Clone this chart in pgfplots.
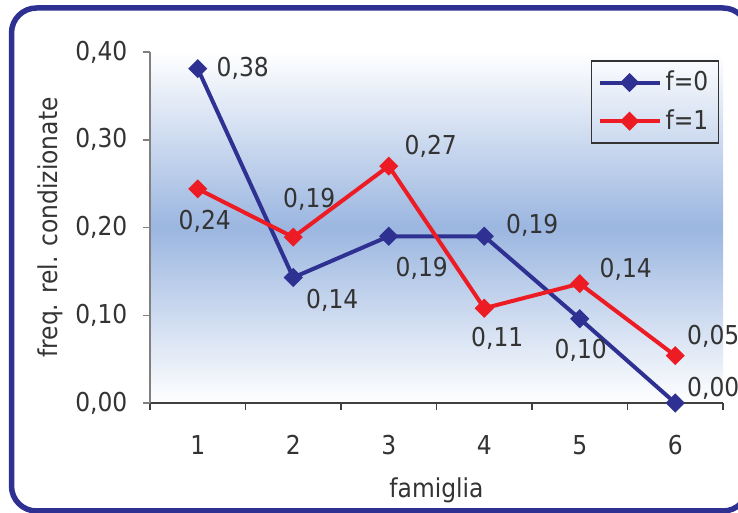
\documentclass[border=0pt]{standalone}
\usepackage{pgfplots}
\pgfplotsset{compat=1.18}
\usepackage{pgfplotstable}
\usepackage{fontspec}
\setmainfont{DejaVu Sans Condensed}

\definecolor{serieblu}{RGB}{46,49,146}
\definecolor{serierossa}{RGB}{237,28,36}
\definecolor{cornice}{RGB}{46,49,146}
\definecolor{testo}{RGB}{51,51,51}
\definecolor{fondo}{RGB}{155,182,224}
\definecolor{assescuro}{RGB}{64,64,64}
\definecolor{assegrigio}{RGB}{128,128,128}

% famiglia, frequenza relativa condizionata, spostamento dell'etichetta (pt)
\pgfplotstableread{
x y     dx   dy
1 0.381 22.5 0
2 0.143 19.5 -11.5
3 0.190 16.5 -16
4 0.190 24   5.5
5 0.096 0.5  -16
6 0.000 19   7.5
}\fzero
\pgfplotstableread{
x y     dx   dy
1 0.244 3.5  -16
2 0.189 8    19
3 0.270 21   10
4 0.108 6.5  -15
5 0.136 23   7
6 0.054 19   9.5
}\funo

\begin{document}
\fontsize{13}{15.5}\selectfont
\begin{tikzpicture}
\clip (0,0) rectangle (369pt,256.5pt);
\draw[cornice, line width=2.75pt, rounded corners=12.5pt]
  (5.75pt,1pt) rectangle (374pt,252.5pt);
\begin{axis}[
  at={(75pt,55pt)}, anchor=south west,
  scale only axis, width=286.5pt, height=175.5pt,
  xmin=0.5, xmax=6.5, ymin=0, ymax=0.4,
  clip=false,
  axis background/.style={shade, top color=white, bottom color=white, middle color=fondo},
  axis x line*=bottom, axis y line*=left,
  axis line style={-},
  x axis line style={draw=assescuro, line width=0.75pt},
  y axis line style={draw=assegrigio, line width=0.75pt},
  tick align=outside,
  major tick length=3.5pt, minor tick length=3.5pt,
  xtick={1,2,3,4,5,6},
  xticklabels={1,2,3,4,5,6},
  minor xtick={0.5,1.5,2.5,3.5,4.5,5.5,6.5},
  major x tick style={draw=none},
  minor x tick style={draw=assescuro, line width=0.75pt},
  ytick={0,0.1,0.2,0.3,0.4},
  ytick style={draw=assegrigio, line width=0.75pt},
  scaled y ticks=false,
  /pgf/number format/fixed,
  /pgf/number format/fixed zerofill,
  /pgf/number format/precision=2,
  /pgf/number format/use comma,
  /pgf/number format/assume math mode=true,
  every tick label/.append style={text=testo},
  xticklabel style={yshift=-8pt},
  yticklabel style={xshift=-3.3pt},
  xlabel={famiglia},
  ylabel={freq. rel. condizionate},
  xlabel style={at={(axis description cs:0.5,-0.2479)}, anchor=center, text=testo},
  ylabel style={at={(axis description cs:-0.1745,0.5)}, anchor=center, text=testo},
  legend style={at={(1,1)}, anchor=north east, xshift=-2pt, yshift=-4pt,
    draw=testo, line width=0.75pt, fill=none, text=testo,
    inner xsep=3pt, inner ysep=3pt, row sep=3.5pt,
    nodes={inner sep=2pt}},
  legend cell align=left,
  legend image code/.code={\draw[mark repeat=2, mark phase=2, #1]
    plot coordinates {(0pt,0pt) (15pt,0pt) (30pt,0pt)};},
]
\addplot[serieblu, line width=2pt, mark=square*, mark size=3pt,
  mark options={rotate=45, solid, fill=serieblu, line width=0.75pt},
  nodes near coords,
  visualization depends on={\thisrow{dx}\as\labdx},
  visualization depends on={\thisrow{dy}\as\labdy},
  every node near coord/.append style={anchor=center, text=testo,
    xshift=\labdx pt, yshift=\labdy pt}]
  table[x=x, y=y] {\fzero};
\addlegendentry{f=0}
\addplot[serierossa, line width=2pt, mark=square*, mark size=3pt,
  mark options={rotate=45, solid, fill=serierossa, line width=0.75pt},
  nodes near coords,
  visualization depends on={\thisrow{dx}\as\labdx},
  visualization depends on={\thisrow{dy}\as\labdy},
  every node near coord/.append style={anchor=center, text=testo,
    xshift=\labdx pt, yshift=\labdy pt}]
  table[x=x, y=y] {\funo};
\addlegendentry{f=1}
\end{axis}
\end{tikzpicture}
\end{document}
